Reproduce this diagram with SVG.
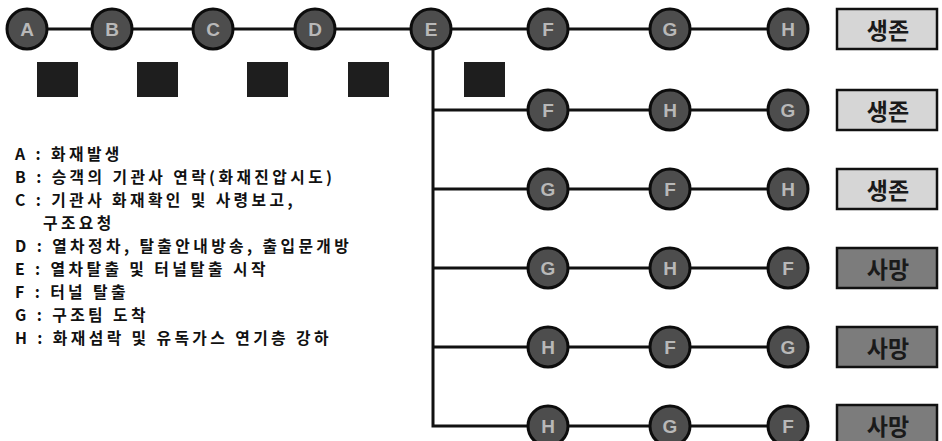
<svg xmlns="http://www.w3.org/2000/svg" width="942" height="441" viewBox="0 0 942 441">
<style>
.ln{stroke:#111;stroke-width:3;fill:none}
.nd circle{fill:#4d4d4d;stroke:#0d0d0d;stroke-width:3}
.nd text{font-family:"Liberation Sans",Arial,sans-serif;font-weight:bold;font-size:19px;fill:#b8b8b8;text-anchor:middle;dominant-baseline:central}
.sq{fill:#1e1e1e}
.ok rect{fill:#d6d6d6;stroke:#111;stroke-width:2.5}
.dd rect{fill:#7c7c7c;stroke:#111;stroke-width:2.5}
.bx text{font-family:"Noto Sans CJK KR","Noto Sans",sans-serif;font-weight:bold;font-size:23px;fill:#1a1a1a;text-anchor:middle;dominant-baseline:central}
.lg{font-family:"Noto Sans CJK KR","Noto Sans",sans-serif;font-weight:bold;font-size:15.8px;fill:#111;letter-spacing:3.4px}
</style>
<g id="connectors">
<path class="ln" d="M25 29H788"/>
<path class="ln" d="M433 50V426H788"/>
<path class="ln" d="M433 110H788"/>
<path class="ln" d="M433 189H788"/>
<path class="ln" d="M433 268H788"/>
<path class="ln" d="M433 347H788"/>
</g>
<g id="row1">
<g id="nA" class="nd"><circle cx="27" cy="29" r="20"/><text x="27" y="29">A</text></g>
<g id="nB" class="nd"><circle cx="112" cy="29" r="20"/><text x="112" y="29">B</text></g>
<g id="nC" class="nd"><circle cx="213" cy="29" r="20"/><text x="213" y="29">C</text></g>
<g id="nD" class="nd"><circle cx="315" cy="29" r="20"/><text x="315" y="29">D</text></g>
<g id="nE" class="nd"><circle cx="431" cy="29" r="20"/><text x="431" y="29">E</text></g>
<g id="n1F" class="nd"><circle cx="548" cy="29" r="20"/><text x="548" y="29">F</text></g>
<g id="n1G" class="nd"><circle cx="670" cy="29" r="20"/><text x="670" y="29">G</text></g>
<g id="n1H" class="nd"><circle cx="788" cy="29" r="20"/><text x="788" y="29">H</text></g>
</g>
<g id="squares">
<rect class="sq" x="37" y="62" width="41" height="35"/>
<rect class="sq" x="137" y="62" width="41" height="35"/>
<rect class="sq" x="247" y="62" width="41" height="35"/>
<rect class="sq" x="348" y="62" width="41" height="35"/>
<rect class="sq" x="464" y="62" width="41" height="35"/>
</g>
<g id="row2">
<g id="n2F" class="nd"><circle cx="548" cy="110" r="20"/><text x="548" y="110">F</text></g>
<g id="n2H" class="nd"><circle cx="670" cy="110" r="20"/><text x="670" y="110">H</text></g>
<g id="n2G" class="nd"><circle cx="788" cy="110" r="20"/><text x="788" y="110">G</text></g>
</g>
<g id="row3">
<g id="n3G" class="nd"><circle cx="548" cy="189" r="20"/><text x="548" y="189">G</text></g>
<g id="n3F" class="nd"><circle cx="670" cy="189" r="20"/><text x="670" y="189">F</text></g>
<g id="n3H" class="nd"><circle cx="788" cy="189" r="20"/><text x="788" y="189">H</text></g>
</g>
<g id="row4">
<g id="n4G" class="nd"><circle cx="548" cy="268" r="20"/><text x="548" y="268">G</text></g>
<g id="n4H" class="nd"><circle cx="670" cy="268" r="20"/><text x="670" y="268">H</text></g>
<g id="n4F" class="nd"><circle cx="788" cy="268" r="20"/><text x="788" y="268">F</text></g>
</g>
<g id="row5">
<g id="n5H" class="nd"><circle cx="548" cy="347" r="20"/><text x="548" y="347">H</text></g>
<g id="n5F" class="nd"><circle cx="670" cy="347" r="20"/><text x="670" y="347">F</text></g>
<g id="n5G" class="nd"><circle cx="788" cy="347" r="20"/><text x="788" y="347">G</text></g>
</g>
<g id="row6">
<g id="n6H" class="nd"><circle cx="548" cy="426" r="20"/><text x="548" y="426">H</text></g>
<g id="n6G" class="nd"><circle cx="670" cy="426" r="20"/><text x="670" y="426">G</text></g>
<g id="n6F" class="nd"><circle cx="788" cy="426" r="20"/><text x="788" y="426">F</text></g>
</g>
<g id="outcomes">
<g id="o1" class="bx ok"><rect x="837" y="9" width="100" height="40"/><text x="888" y="29">생존</text></g>
<g id="o2" class="bx ok"><rect x="837" y="90" width="100" height="40"/><text x="888" y="110">생존</text></g>
<g id="o3" class="bx ok"><rect x="837" y="169" width="100" height="40"/><text x="888" y="189">생존</text></g>
<g id="o4" class="bx dd"><rect x="837" y="248" width="100" height="40"/><text x="888" y="268">사망</text></g>
<g id="o5" class="bx dd"><rect x="837" y="327" width="100" height="40"/><text x="888" y="347">사망</text></g>
<g id="o6" class="bx dd"><rect x="837" y="405" width="100" height="40"/><text x="888" y="425">사망</text></g>
</g>
<g id="legend">
<text class="lg" x="15" y="160">A : 화재발생</text>
<text class="lg" x="15" y="183">B : 승객의 기관사 연락(화재진압시도)</text>
<text class="lg" x="15" y="206">C : 기관사 화재확인 및 사령보고,</text>
<text class="lg" x="43" y="229">구조요청</text>
<text class="lg" x="15" y="252">D : 열차정차, 탈출안내방송, 출입문개방</text>
<text class="lg" x="15" y="275">E : 열차탈출 및 터널탈출 시작</text>
<text class="lg" x="15" y="298">F : 터널 탈출</text>
<text class="lg" x="15" y="321">G : 구조팀 도착</text>
<text class="lg" x="15" y="344">H : 화재섬락 및 유독가스 연기층 강하</text>
</g>
</svg>
